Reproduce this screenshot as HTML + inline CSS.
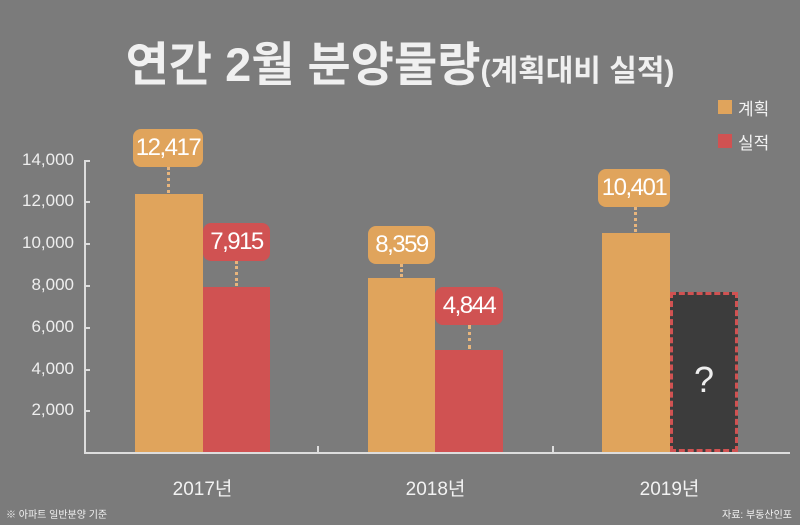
<!DOCTYPE html><html><head><meta charset="utf-8"><style>
body{margin:0;width:800px;height:525px;background:#7b7b7b;overflow:hidden;position:relative;font-family:"Liberation Sans","Noto Sans CJK KR",sans-serif;color:#f2f2f2}
.a{position:absolute}
.lab{position:absolute;border-radius:8px;text-align:center;color:#fff;font-size:24px;letter-spacing:-1.5px;line-height:38px;height:38px;white-space:nowrap}
.o{background:#e0a45c}.r{background:#d05252}
.dot{position:absolute;width:0;border-left:3px dotted #e8b57c}
.yt{position:absolute;left:0;width:74px;text-align:right;font-size:17px;color:#eee}
</style></head><body>
<div class="a" style="left:0;width:800px;top:26px;text-align:center;font-size:47px;font-weight:bold;color:#f0f0f0;white-space:nowrap">연간 2월 분양물량<span style="font-size:30px">(계획대비 실적)</span></div>
<div class="a" style="left:718px;top:100px;width:14px;height:14px;background:#e0a45c"></div>
<div class="a" style="left:738px;top:95px;font-size:17px">계획</div>
<div class="a" style="left:718px;top:134px;width:14px;height:14px;background:#d05252"></div>
<div class="a" style="left:738px;top:129px;font-size:17px">실적</div>
<div class="a" style="left:84px;top:160px;width:2px;height:293px;background:#ddd"></div>
<div class="a" style="left:84px;top:452px;width:706px;height:2px;background:#ddd"></div>
<div class="a" style="left:317px;top:446px;width:2px;height:7px;background:#ddd"></div>
<div class="a" style="left:552px;top:446px;width:2px;height:7px;background:#ddd"></div>
<div class="yt" style="top:150px">14,000</div><div class="a" style="left:84px;top:160px;width:6px;height:2px;background:#ddd"></div>
<div class="yt" style="top:191px">12,000</div><div class="a" style="left:84px;top:201px;width:6px;height:2px;background:#ddd"></div>
<div class="yt" style="top:233px">10,000</div><div class="a" style="left:84px;top:243px;width:6px;height:2px;background:#ddd"></div>
<div class="yt" style="top:275px">8,000</div><div class="a" style="left:84px;top:285px;width:6px;height:2px;background:#ddd"></div>
<div class="yt" style="top:317px">6,000</div><div class="a" style="left:84px;top:327px;width:6px;height:2px;background:#ddd"></div>
<div class="yt" style="top:359px">4,000</div><div class="a" style="left:84px;top:369px;width:6px;height:2px;background:#ddd"></div>
<div class="yt" style="top:400px">2,000</div><div class="a" style="left:84px;top:410px;width:6px;height:2px;background:#ddd"></div>
<div class="a o" style="left:135px;top:194px;width:68px;height:258px"></div>
<div class="a r" style="left:203px;top:287px;width:67px;height:165px"></div>
<div class="a o" style="left:368px;top:278px;width:67px;height:174px"></div>
<div class="a r" style="left:435px;top:350px;width:68px;height:102px"></div>
<div class="a o" style="left:602px;top:233px;width:68px;height:219px"></div>
<div class="a" style="left:670px;top:292px;width:62px;height:154px;background:#3c3c3c;border:3px dashed #d05252;color:#eee;font-size:36px;text-align:center;line-height:170px">?</div>
<div class="lab o" style="left:133px;top:129px;width:70px">12,417</div><div class="dot" style="left:167px;top:167px;height:26px"></div>
<div class="lab r" style="left:203px;top:223px;width:67px">7,915</div><div class="dot" style="left:235px;top:261px;height:25px"></div>
<div class="lab o" style="left:368px;top:226px;width:67px">8,359</div><div class="dot" style="left:400px;top:264px;height:13px"></div>
<div class="lab r" style="left:435px;top:287px;width:68px">4,844</div><div class="dot" style="left:468px;top:325px;height:24px"></div>
<div class="lab o" style="left:598px;top:169px;width:72px">10,401</div><div class="dot" style="left:634px;top:207px;height:25px"></div>
<div class="a" style="left:135px;width:135px;top:474px;text-align:center;font-size:19px">2017년</div>
<div class="a" style="left:368px;width:135px;top:474px;text-align:center;font-size:19px">2018년</div>
<div class="a" style="left:602px;width:135px;top:474px;text-align:center;font-size:19px">2019년</div>
<div class="a" style="left:6px;top:506px;font-size:10px">※ 아파트 일반분양 기준</div>
<div class="a" style="right:8px;top:506px;font-size:10px">자료: 부동산인포</div>
</body></html>
